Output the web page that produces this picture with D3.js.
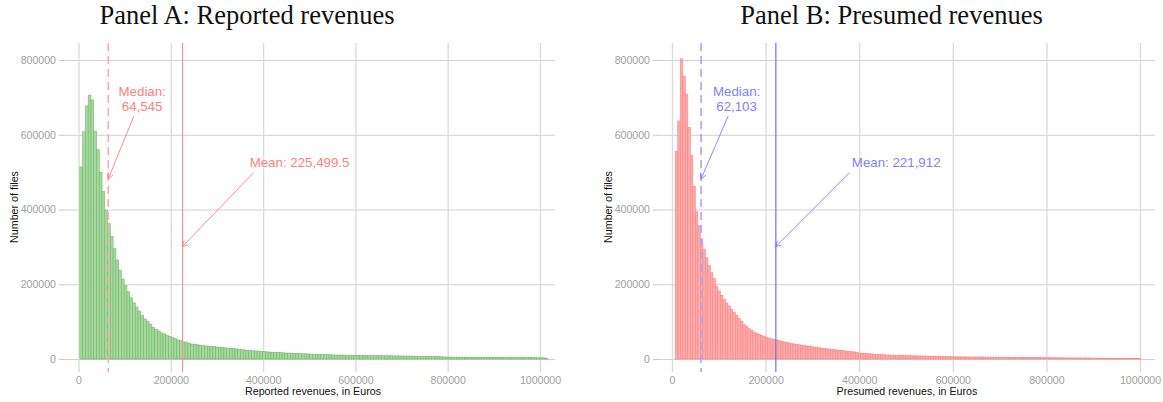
<!DOCTYPE html>
<html><head><meta charset="utf-8">
<script src="https://cdn.jsdelivr.net/npm/d3@7"></script>
<style>body{margin:0;background:#fff}</style></head><body>
<svg id="c" width="1163" height="402"></svg>
<script>
const yTicks = [0, 200000, 400000, 600000, 800000];
const xTicks = [0, 200000, 400000, 600000, 800000, 1000000];

// Panel A: reported revenues histogram (bin start, bin width, counts)
const binStartA = 3000, binWidthA = 6000;
const countsA = [
514000,608000,677000,706000,693000,610000,560000,500000,448000,398000,
362000,328000,295000,265000,238000,214000,196000,180000,164000,150000,
139000,128000,116000,107000,100000,92000,85000,79000,75000,70000,
67000,63000,60000,57000,54000,51000,49000,46000,45000,42000,
40000,39000,38000,37000,36000,35000,34500,33500,33000,32000,
31000,30500,30000,29000,28500,28000,27000,26000,25000,24000,
23500,23000,22000,21500,21000,20500,20000,19000,18500,18000,
17500,17200,17000,16500,16000,15800,15500,15000,14800,14500,
14000,13800,13500,13200,13000,12500,12000,11900,11700,11500,
11200,11000,10800,10600,10500,10300,10200,10000,9900,9800,
9700,9650,9500,9400,9350,9200,9100,9000,8950,8800,
8700,8650,8500,8400,8350,8200,8100,8000,7900,7700,
7600,7450,7300,7150,7000,6900,6750,6600,6400,6200,
6000,5700,5300,5200,5100,5000,4950,4850,4800,4700,
4650,4600,4500,4450,4400,4300,4250,4200,4100,4050,
4000,3950,3900,3850,3800,3750,3700,3650,3600,3550,
3550,3500,3500,3450,3400,3400,3350,3000,2000
];

// Panel B: presumed revenues histogram
const binStartB = 7000, binWidthB = 5350;
const countsB = [
556000,637000,803000,757000,709000,620000,545000,462000,394000,356000,
321000,294000,271000,251000,231000,215000,195000,182000,170000,160000,
150000,142000,133000,125000,117000,108000,100000,93000,87000,81000,
77000,72000,69000,66000,63000,60000,58000,56000,54000,52000,
51000,49000,47000,45500,44000,43000,41000,40000,39000,38000,
37000,36000,35000,34000,33000,32000,31000,30000,29000,28000,
27000,26500,26000,25000,24000,23000,22500,22000,21000,20000,
19500,19000,18000,16000,15500,15000,14500,14000,13500,13000,
12500,12000,11800,11500,10700,10500,10200,10000,9800,9500,
9300,9100,9000,8800,8600,8500,8300,8200,8000,7900,
7700,7600,7400,7300,7100,7000,6800,6700,6500,6300,
6000,5900,5800,5700,5600,5500,5450,5400,5300,5250,
5200,5150,5100,5000,4950,4900,4850,4800,4750,4700,
4650,4600,4600,4550,4500,4500,4450,4400,4500,4400,
4300,4200,4100,4000,3900,3800,3700,3600,3500,3400,
3350,3300,3200,3150,3100,3000,2950,2900,2850,2800,
2800,2750,2700,2700,2700,2600,2500,2450,2400,2300,
2200,2100,2000,1900,1800,1700,1600,1500,1400,1300,
1250,1200,1150,1100,1050,1000
];

const medianA = 64545, meanA = 225499.5;
const medianB = 62103, meanB = 221912;
const titles = ["Panel A: Reported revenues", "Panel B: Presumed revenues"];
const xTitles = ["Reported revenues, in Euros", "Presumed revenues, in Euros"];
const yTitle = "Number of files";
const medianLabels = [["Median:", "64,545"], ["Median:", "62,103"]];
const meanLabels = ["Mean: 225,499.5", "Mean: 221,912"];

const svg = d3.select("#c");
const sans = "Liberation Sans, Arial, sans-serif";

const panels = [
  {start: binStartA, width: binWidthA, counts: countsA, median: medianA, mean: meanA,
   xr: [78.5, 540], area: [64, 555], titleCx: 247, yTitleX: 14, xTitleCx: 313,
   fill: "rgb(168,216,162)", stroke: "rgb(112,186,102)",
   medCol: "rgb(255,168,168)", meanCol: "rgb(255,140,140)", txtCol: "rgb(255,128,128)", arrCol: "rgb(255,110,110)"},
  {start: binStartB, width: binWidthB, counts: countsB, median: medianB, mean: meanB,
   xr: [672, 1140], area: [658, 1155], titleCx: 891.5, yTitleX: 608, xTitleCx: 907,
   fill: "rgb(255,172,172)", stroke: "rgb(255,128,128)",
   medCol: "rgb(165,165,255)", meanCol: "rgb(100,100,235)", txtCol: "rgb(128,128,255)", arrCol: "rgb(110,110,255)"}
];

const y = d3.scaleLinear().domain([0, 800000]).range([359, 60]);
const plotTop = 43, plotBottom = 372;

panels.forEach((p, k) => {
  const x = d3.scaleLinear().domain([0, 1000000]).range(p.xr);
  const g = svg.append("g");

  g.append("g").attr("transform", `translate(${p.area[0]},0)`)
    .call(d3.axisLeft(y).tickValues(yTicks).tickSize(-(p.area[1] - p.area[0])).tickFormat(""))
    .call(s => s.select(".domain").remove())
    .call(s => s.selectAll("line").attr("stroke", "#d0d0d0").attr("stroke-width", 1));
  g.append("g").attr("transform", `translate(0,${plotBottom})`)
    .call(d3.axisBottom(x).tickValues(xTicks).tickSize(-(plotBottom - plotTop)).tickFormat(""))
    .call(s => s.select(".domain").remove())
    .call(s => s.selectAll("line").attr("stroke", "#dcdcdc").attr("stroke-width", 1.4));

  const bins = p.counts.map((c, i) => ({x0: p.start + i * p.width, x1: p.start + (i + 1) * p.width, c}));
  g.append("g").selectAll("rect").data(bins).join("rect")
    .attr("x", d => x(d.x0)).attr("width", d => x(d.x1) - x(d.x0))
    .attr("y", d => y(d.c)).attr("height", d => y(0) - y(d.c))
    .attr("fill", p.fill).attr("stroke", p.stroke).attr("stroke-width", 0.6);

  g.append("line").attr("x1", x(p.median)).attr("x2", x(p.median)).attr("y1", plotTop).attr("y2", plotBottom)
    .attr("stroke", p.medCol).attr("stroke-width", 1.6).attr("stroke-dasharray", "8,5");
  g.append("line").attr("x1", x(p.mean)).attr("x2", x(p.mean)).attr("y1", plotTop).attr("y2", plotBottom)
    .attr("stroke", p.meanCol).attr("stroke-width", 1.1);

  g.append("g").attr("transform", `translate(${p.area[0]},0)`)
    .call(d3.axisLeft(y).tickValues(yTicks).tickSize(5).tickPadding(3).tickFormat(d3.format("d")))
    .call(s => s.select(".domain").remove())
    .call(s => s.selectAll("line").attr("stroke", "#c8c8c8"))
    .call(s => s.selectAll("text").attr("fill", "#a0a0a0").attr("font-size", "10.6px").attr("font-family", sans));
  g.append("g").attr("transform", `translate(0,${plotBottom})`)
    .call(d3.axisBottom(x).tickValues(xTicks).tickSize(0).tickPadding(4).tickFormat(d3.format("d")))
    .call(s => s.select(".domain").remove())
    .call(s => s.selectAll("text").attr("fill", "#a0a0a0").attr("font-size", "10.6px").attr("font-family", sans));

  g.append("text").attr("x", p.xTitleCx).attr("y", 395).attr("text-anchor", "middle")
    .attr("font-family", sans).attr("font-size", "10.7px").attr("fill", "#111").text(xTitles[k]);
  g.append("text").attr("transform", `translate(${p.yTitleX + 4},${207}) rotate(-90)`).attr("text-anchor", "middle")
    .attr("font-family", sans).attr("font-size", "10.7px").attr("fill", "#111").text(yTitle);

  svg.append("text").attr("x", p.titleCx).attr("y", 23.5).attr("text-anchor", "middle")
    .attr("font-family", "Liberation Serif, serif").attr("font-size", "26.5px").attr("fill", "#111").text(titles[k]);

  const ann = g.append("g").attr("font-family", sans).attr("font-size", "13.3px").attr("fill", p.txtCol).attr("text-anchor", "middle");
  ann.append("text").attr("x", x(138000)).attr("y", y(717000)).attr("dy", "0.35em").text(medianLabels[k][0]);
  ann.append("text").attr("x", x(138000)).attr("y", y(677000)).attr("dy", "0.35em").text(medianLabels[k][1]);
  ann.append("text").attr("x", x(479000)).attr("y", y(525000)).attr("dy", "0.35em").text(meanLabels[k]);

  const arrow = (x0, y0, x1, y1) => {
    const ang = Math.atan2(y1 - y0, x1 - x0), L = 6, a = Math.PI / 6;
    g.append("line").attr("x1", x0).attr("y1", y0).attr("x2", x1).attr("y2", y1)
      .attr("stroke", p.arrCol).attr("stroke-width", 0.8);
    g.append("path").attr("d",
      `M${x1 - L * Math.cos(ang - a)},${y1 - L * Math.sin(ang - a)}L${x1},${y1}L${x1 - L * Math.cos(ang + a)},${y1 - L * Math.sin(ang + a)}`)
      .attr("fill", "none").attr("stroke", p.arrCol).attr("stroke-width", 0.8);
  };
  arrow(x(120000), y(650000), x(p.median), y(482000));
  arrow(x(379000), y(498000), x(p.mean), y(301000));
});
</script></body></html>
